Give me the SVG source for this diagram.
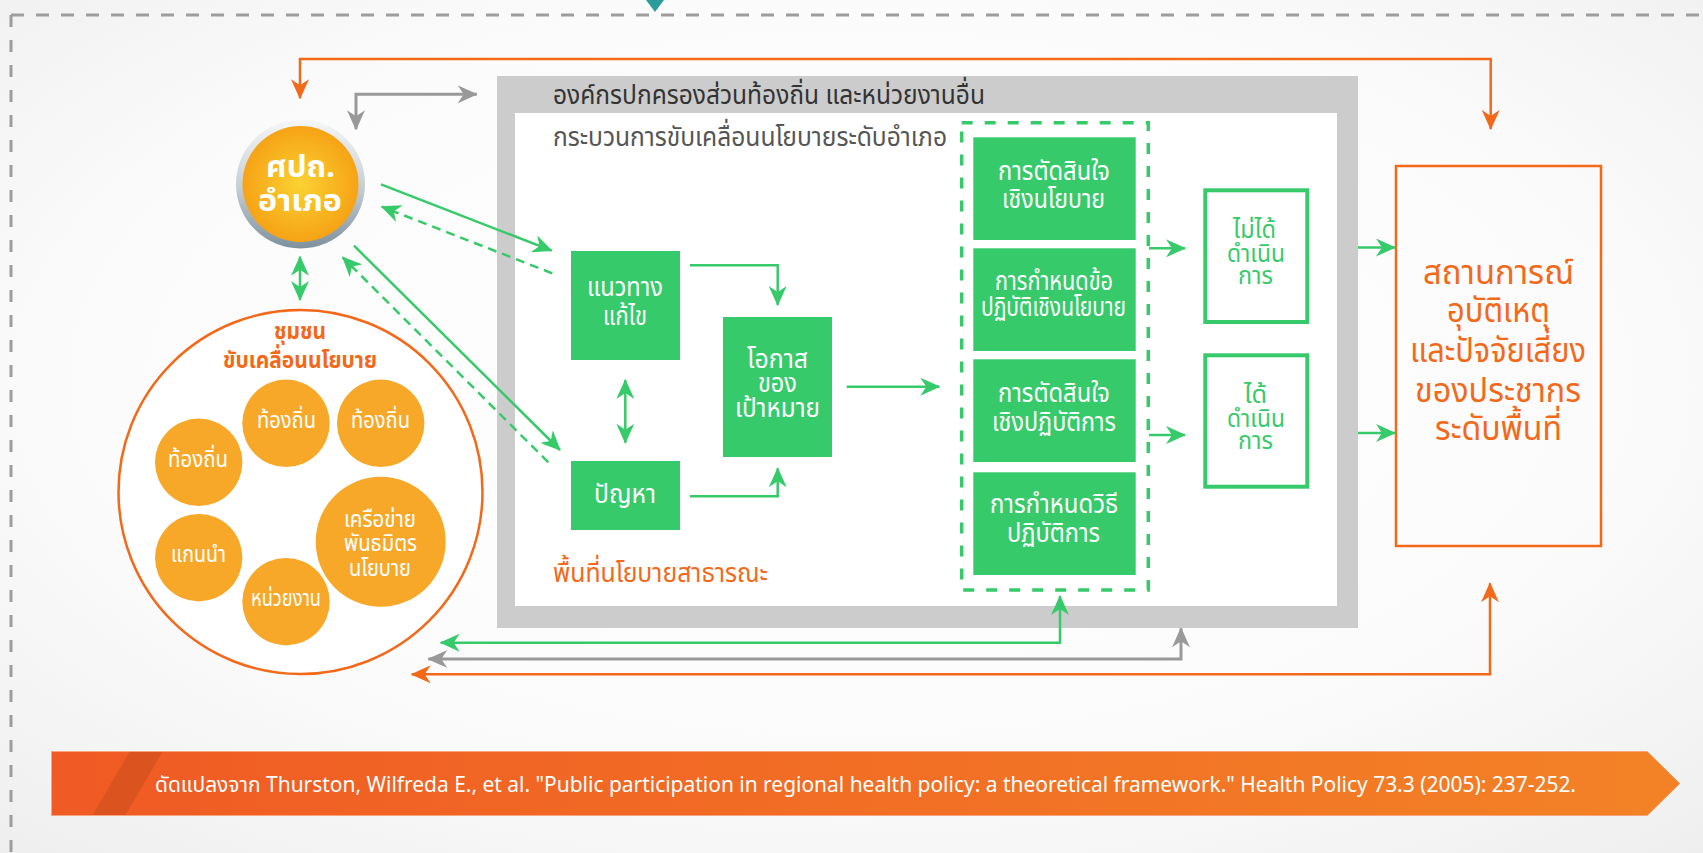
<svg xmlns="http://www.w3.org/2000/svg" width="1703" height="853" viewBox="0 0 1703 853">
<defs>
<radialGradient id="bg" cx="0.5" cy="0.45" r="0.75">
<stop offset="0" stop-color="#ffffff"/>
<stop offset="0.6" stop-color="#fbfbfb"/>
<stop offset="1" stop-color="#eeeeee"/>
</radialGradient>
<linearGradient id="ring" x1="0" y1="0" x2="0" y2="1">
<stop offset="0" stop-color="#f5f7f8"/>
<stop offset="0.5" stop-color="#c9d1d6"/>
<stop offset="1" stop-color="#7d919d"/>
</linearGradient>
<radialGradient id="core" cx="0.5" cy="0.5" r="0.5">
<stop offset="0" stop-color="#fad232"/>
<stop offset="1" stop-color="#f6a316"/>
</radialGradient>
<linearGradient id="banner" x1="0" y1="0" x2="1" y2="0">
<stop offset="0" stop-color="#f05a24"/>
<stop offset="1" stop-color="#f38226"/>
</linearGradient>
<radialGradient id="bshadow" cx="1" cy="0.5" r="1" fx="1" fy="0.5" gradientTransform="translate(0.5 0) scale(0.5 1)">
<stop offset="0" stop-color="#3a1a0a" stop-opacity="0.6"/>
<stop offset="1" stop-color="#3a1a0a" stop-opacity="0"/>
</radialGradient>
<marker id="ag" viewBox="0 0 20 18" refX="19" refY="9" markerWidth="20" markerHeight="18" markerUnits="userSpaceOnUse" orient="auto-start-reverse"><path d="M0,0 L20,9 L0,18 L6,9 z" fill="#37ca6a"/></marker>
<marker id="agr" viewBox="0 0 20 18" refX="19" refY="9" markerWidth="20" markerHeight="18" markerUnits="userSpaceOnUse" orient="auto-start-reverse"><path d="M0,0 L20,9 L0,18 L6,9 z" fill="#999999"/></marker>
<marker id="ao" viewBox="0 0 20 18" refX="19" refY="9" markerWidth="20" markerHeight="18" markerUnits="userSpaceOnUse" orient="auto-start-reverse"><path d="M0,0 L20,9 L0,18 L6,9 z" fill="#f2691a"/></marker>
</defs>
<style>
text{font-family:"Noto Sans Thai","Noto Sans Thai UI","Noto Sans","DejaVu Sans",sans-serif}
.g{fill:none;stroke:#37ca6a;stroke-width:2.5}
.gd{fill:none;stroke:#37ca6a;stroke-width:2.5;stroke-dasharray:9 6}
.gr{fill:none;stroke:#999999;stroke-width:3}
.o{fill:none;stroke:#f2691a;stroke-width:2.5}
.box{fill:#37ca6a}
.wt{fill:#ffffff;font-size:26px}
.gt{fill:#37ca6a;font-size:24px}
.sm{fill:#f7a829}
.smt{fill:#ffffff;font-size:23px}
.ot{fill:#f2691a;font-size:34px}
</style>
<rect x="0" y="0" width="1703" height="853" fill="url(#bg)"/>
<g id="frame-border">
<path d="M11,15 H1703" stroke="#9d9d9d" stroke-width="3" stroke-dasharray="13 12" fill="none"/>
<path d="M11,15 V853" stroke="#9d9d9d" stroke-width="3" stroke-dasharray="12 13" fill="none"/>
<polygon points="646,0 664,0 655,12" fill="#2a9c9c"/>
</g>
<g id="local-org">
<rect x="497" y="76" width="861" height="552" fill="#cccccc"/>
<rect x="515" y="113" width="822" height="493" fill="#ffffff"/>
<text x="553" y="104" fill="#333333" font-size="27" textLength="432" lengthAdjust="spacingAndGlyphs">องค์กรปกครองส่วนท้องถิ่น และหน่วยงานอื่น</text>
<text x="553" y="146" fill="#555555" font-size="27" textLength="394" lengthAdjust="spacingAndGlyphs">กระบวนการขับเคลื่อนนโยบายระดับอำเภอ</text>
<text x="553" y="582" fill="#f2691a" font-size="27" textLength="215" lengthAdjust="spacingAndGlyphs">พื้นที่นโยบายสาธารณะ</text>
</g>
<g id="solution">
<rect class="box" x="571" y="251" width="109" height="109"/>
<text class="wt" x="587" y="296" textLength="76" lengthAdjust="spacingAndGlyphs">แนวทาง</text>
<text class="wt" x="603" y="325" textLength="44" lengthAdjust="spacingAndGlyphs">แก้ไข</text>
</g>
<g id="problem">
<rect class="box" x="571" y="461" width="109" height="69"/>
<text class="wt" x="594" y="503" textLength="62" lengthAdjust="spacingAndGlyphs">ปัญหา</text>
</g>
<g id="opportunity">
<rect class="box" x="723" y="317" width="109" height="140"/>
<text class="wt" x="747" y="368" font-size="25" textLength="61" lengthAdjust="spacingAndGlyphs">โอกาส</text>
<text class="wt" x="758" y="392" font-size="25" textLength="39" lengthAdjust="spacingAndGlyphs">ของ</text>
<text class="wt" x="735" y="417" font-size="25" textLength="85" lengthAdjust="spacingAndGlyphs">เป้าหมาย</text>
</g>
<g id="decision-group">
<rect x="961.7" y="122.7" width="186.6" height="467.3" fill="none" stroke="#37ca6a" stroke-width="3.5" stroke-dasharray="11 12"/>
</g>
<g id="policy-decision">
<rect class="box" x="973.3" y="137.3" width="162.4" height="102.7"/>
<text class="wt" x="998" y="180" textLength="112" lengthAdjust="spacingAndGlyphs">การตัดสินใจ</text>
<text class="wt" x="1002" y="208" textLength="103" lengthAdjust="spacingAndGlyphs">เชิงนโยบาย</text>
</g>
<g id="policy-guideline">
<rect class="box" x="973.3" y="248.3" width="162.4" height="102.7"/>
<text class="wt" x="995" y="290" font-size="24" textLength="118" lengthAdjust="spacingAndGlyphs">การกำหนดข้อ</text>
<text class="wt" x="981" y="316" font-size="24" textLength="145" lengthAdjust="spacingAndGlyphs">ปฏิบัติเชิงนโยบาย</text>
</g>
<g id="operational-decision">
<rect class="box" x="973.3" y="359.3" width="162.4" height="102.7"/>
<text class="wt" x="998" y="402" textLength="112" lengthAdjust="spacingAndGlyphs">การตัดสินใจ</text>
<text class="wt" x="992" y="431" textLength="124" lengthAdjust="spacingAndGlyphs">เชิงปฏิบัติการ</text>
</g>
<g id="operational-procedure">
<rect class="box" x="973.3" y="472.3" width="162.4" height="102.7"/>
<text class="wt" x="990" y="513" textLength="128" lengthAdjust="spacingAndGlyphs">การกำหนดวิธี</text>
<text class="wt" x="1007" y="542" textLength="93" lengthAdjust="spacingAndGlyphs">ปฏิบัติการ</text>
</g>
<g id="not-implemented">
<rect x="1205.3" y="190.3" width="102" height="131.7" fill="none" stroke="#37ca6a" stroke-width="4"/>
<text class="gt" x="1233" y="238" textLength="43" lengthAdjust="spacingAndGlyphs">ไม่ได้</text>
<text class="gt" x="1227" y="262" textLength="58" lengthAdjust="spacingAndGlyphs">ดำเนิน</text>
<text class="gt" x="1238" y="284" textLength="35" lengthAdjust="spacingAndGlyphs">การ</text>
</g>
<g id="implemented">
<rect x="1205.3" y="355.3" width="102" height="131.4" fill="none" stroke="#37ca6a" stroke-width="4"/>
<text class="gt" x="1244" y="403" textLength="23" lengthAdjust="spacingAndGlyphs">ได้</text>
<text class="gt" x="1227" y="427" textLength="58" lengthAdjust="spacingAndGlyphs">ดำเนิน</text>
<text class="gt" x="1238" y="449" textLength="35" lengthAdjust="spacingAndGlyphs">การ</text>
</g>
<g id="situation">
<rect x="1396" y="166" width="205" height="380" fill="none" stroke="#f2691a" stroke-width="2.5"/>
<text class="ot" x="1423" y="284" textLength="151" lengthAdjust="spacingAndGlyphs">สถานการณ์</text>
<text class="ot" x="1447" y="322" textLength="103" lengthAdjust="spacingAndGlyphs">อุบัติเหตุ</text>
<text class="ot" x="1410" y="362" textLength="176" lengthAdjust="spacingAndGlyphs">และปัจจัยเสี่ยง</text>
<text class="ot" x="1415" y="402" textLength="166" lengthAdjust="spacingAndGlyphs">ของประชากร</text>
<text class="ot" x="1435" y="440" textLength="127" lengthAdjust="spacingAndGlyphs">ระดับพื้นที่</text>
</g>
<g id="district-center">
<circle cx="300.5" cy="184" r="64.5" fill="url(#ring)"/>
<circle cx="300.5" cy="184" r="58" fill="url(#core)"/>
<text x="266" y="177" fill="#ffffff" font-size="30" font-weight="bold" textLength="69" lengthAdjust="spacingAndGlyphs">ศปถ.</text>
<text x="258" y="211" fill="#ffffff" font-size="30" font-weight="bold" textLength="84" lengthAdjust="spacingAndGlyphs">อำเภอ</text>
</g>
<g id="community">
<circle cx="300.5" cy="492" r="182" fill="#ffffff" stroke="#f2691a" stroke-width="2.5"/>
<text x="274" y="339" fill="#f2691a" font-size="23" font-weight="bold" textLength="52" lengthAdjust="spacingAndGlyphs">ชุมชน</text>
<text x="223" y="368" fill="#f2691a" font-size="23" font-weight="bold" textLength="154" lengthAdjust="spacingAndGlyphs">ขับเคลื่อนนโยบาย</text>
<circle class="sm" cx="286" cy="423.3" r="43.7"/>
<text class="smt" x="257" y="428" textLength="59" lengthAdjust="spacingAndGlyphs">ท้องถิ่น</text>
<circle class="sm" cx="380.7" cy="423.3" r="43.7"/>
<text class="smt" x="351" y="428" textLength="59" lengthAdjust="spacingAndGlyphs">ท้องถิ่น</text>
<circle class="sm" cx="198.7" cy="462.3" r="43.7"/>
<text class="smt" x="168" y="467" textLength="60" lengthAdjust="spacingAndGlyphs">ท้องถิ่น</text>
<circle class="sm" cx="198.7" cy="557.7" r="43.7"/>
<text class="smt" x="171" y="562" textLength="55" lengthAdjust="spacingAndGlyphs">แกนนำ</text>
<circle class="sm" cx="286" cy="601.7" r="43.7"/>
<text class="smt" x="251" y="606" textLength="70" lengthAdjust="spacingAndGlyphs">หน่วยงาน</text>
<circle class="sm" cx="380.7" cy="541.7" r="65"/>
<text class="smt" x="344" y="527" textLength="72" lengthAdjust="spacingAndGlyphs">เครือข่าย</text>
<text class="smt" x="344" y="551" textLength="73" lengthAdjust="spacingAndGlyphs">พันธมิตร</text>
<text class="smt" x="349" y="576" textLength="62" lengthAdjust="spacingAndGlyphs">นโยบาย</text>
</g>
<g id="connectors">
<path class="o" d="M300,98.3 V59 H1490.7 V128.9" marker-start="url(#ao)" marker-end="url(#ao)"/>
<path class="gr" d="M356,129.3 V94.3 H476.7" marker-start="url(#agr)" marker-end="url(#agr)"/>
<path class="g" d="M381,184.3 L551.7,250.7" marker-end="url(#ag)"/>
<path class="gd" d="M552.3,273.3 L381.7,206.7" marker-end="url(#ag)"/>
<path class="g" d="M354,245.7 L560,450" marker-end="url(#ag)"/>
<path class="gd" d="M548.3,462.3 L342.7,257.3" marker-end="url(#ag)"/>
<path class="g" d="M300,256.7 V300" marker-start="url(#ag)" marker-end="url(#ag)"/>
<path class="g" d="M690,265.3 H777.7 V305" marker-end="url(#ag)"/>
<path class="g" d="M690,496.3 H777.7 V468.3" marker-end="url(#ag)"/>
<path class="g" d="M625.3,380 V442.7" marker-start="url(#ag)" marker-end="url(#ag)"/>
<path class="g" d="M846.7,386.7 H939.3" marker-end="url(#ag)"/>
<path class="g" d="M1149,248.3 H1185" marker-end="url(#ag)"/>
<path class="g" d="M1149,435 H1185" marker-end="url(#ag)"/>
<path class="g" d="M1358,247.5 H1395" marker-end="url(#ag)"/>
<path class="g" d="M1358,433 H1395" marker-end="url(#ag)"/>
<path class="g" d="M440.7,642.7 H1060 V596" marker-start="url(#ag)" marker-end="url(#ag)"/>
<path class="gr" d="M428.3,659 H1181 V628.3" marker-start="url(#agr)" marker-end="url(#agr)"/>
<path class="o" d="M411.7,674.3 H1490 V583.3" marker-start="url(#ao)" marker-end="url(#ao)"/>
</g>
<g id="citation">
<ellipse cx="52" cy="783.5" rx="7" ry="34" fill="url(#bshadow)"/>
<polygon points="51.5,751 1647,751 1680,783.5 1647,816 51.5,816" fill="url(#banner)"/>
<polygon points="92,816 125,816 163,751 130,751" fill="#d4501e" opacity="0.75"/>
<path d="M51.5,751.5 H1647 M51.5,815.5 H1647" stroke="#f8a57f" stroke-width="1" fill="none"/>
<text x="155" y="792" fill="#ffffff" font-size="21" textLength="1421" lengthAdjust="spacingAndGlyphs">ดัดแปลงจาก Thurston, Wilfreda E., et al. "Public participation in regional health policy: a theoretical framework." Health Policy 73.3 (2005): 237-252.</text>
</g>
</svg>
